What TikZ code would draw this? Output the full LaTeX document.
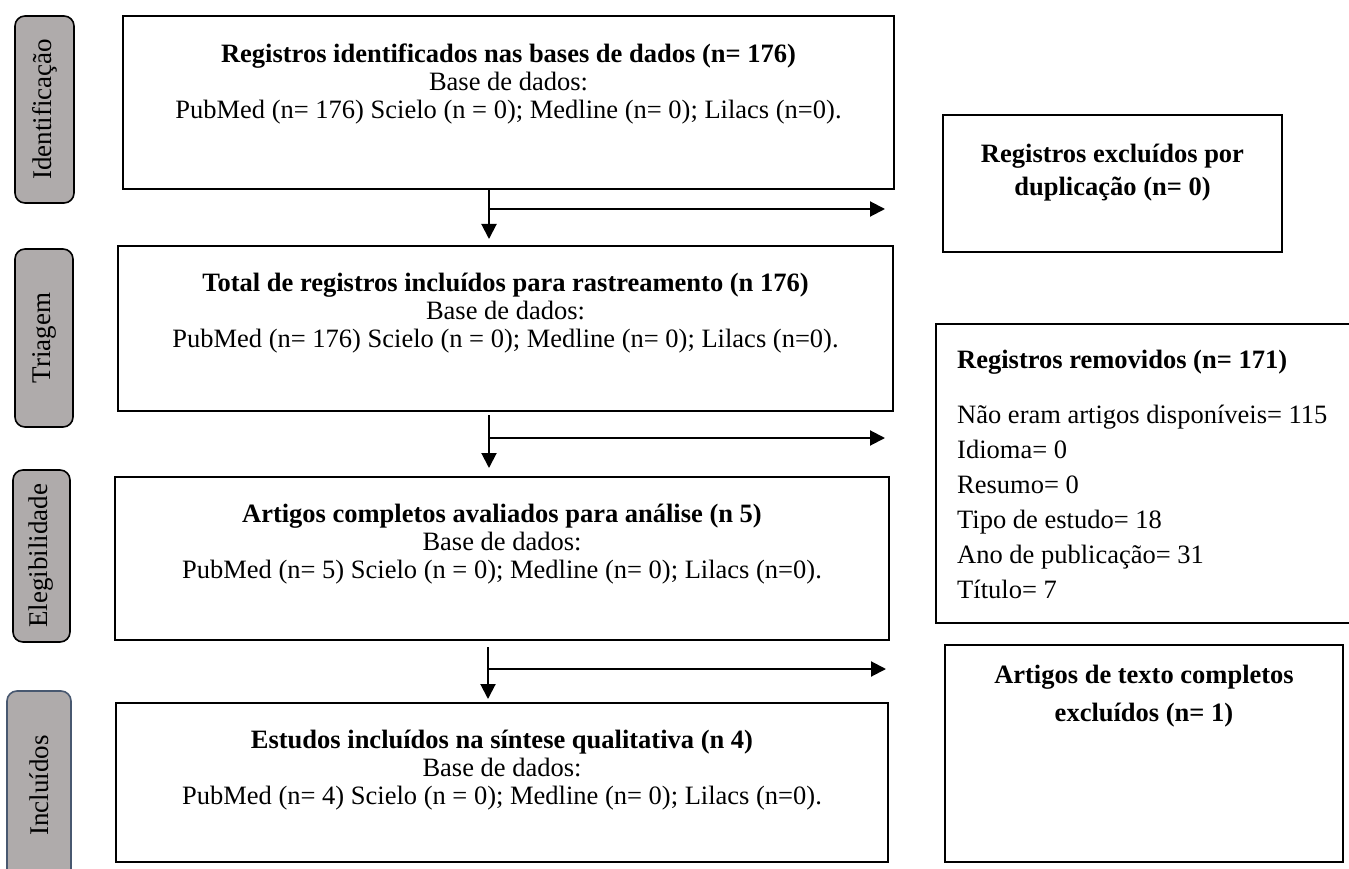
\documentclass[tikz,border=0pt]{standalone}
\usepackage{fontspec}
\setmainfont{Liberation Serif}
\usetikzlibrary{arrows.meta}
\definecolor{bargray}{RGB}{175,171,171}
\definecolor{slate}{RGB}{72,88,112}
\newcommand\mainfs{\fontsize{26.5}{28}\selectfont}
\begin{document}
\begin{tikzpicture}[x=1pt,y=-1pt,
  box/.style={draw, line width=1.6pt, inner sep=0pt},
  txt/.style={align=center, inner sep=0pt, font=\mainfs, anchor=north},
  bar/.style={draw, line width=1.6pt, fill=bargray, rounded corners=10pt, rotate=90, font=\fontsize{27}{30}\selectfont, inner sep=0pt},
  arr/.style={line width=2pt, -{Triangle[length=15pt,width=15pt]}}]
\useasboundingbox (0,0) rectangle (1349,869);
\clip (0,0) rectangle (1349,869);
% phase bars
\node[bar, minimum width=187pt, minimum height=59pt] (b1) at (44.5,109.5) {Identificação};
\node[bar, minimum width=178pt, minimum height=58pt] (b2) at (44,338) {Triagem};
\node[bar, minimum width=172pt, minimum height=57pt] (b3) at (41.5,556) {Elegibilidade};
\node[bar, draw=slate, minimum width=189pt, minimum height=64pt] (b4) at (39,785.5) {Incluídos};
% main boxes
\node[box, minimum width=771pt, minimum height=173pt] (m1) at (508.5,102.5) {};
\node[box, minimum width=775pt, minimum height=165pt] (m2) at (505.5,328.5) {};
\node[box, minimum width=774pt, minimum height=163pt] (m3) at (502,558.5) {};
\node[box, minimum width=772pt, minimum height=159pt] (m4) at (502,782.5) {};
\node[txt] (t1) at (508.5,44) {\textbf{Registros identificados nas bases de dados (n= 176)}\\Base de dados:\\PubMed (n= 176) Scielo (n = 0); Medline (n= 0); Lilacs (n=0).};
\node[txt] (t2) at (505.5,273) {\textbf{Total de registros incluídos para rastreamento (n 176)}\\Base de dados:\\PubMed (n= 176) Scielo (n = 0); Medline (n= 0); Lilacs (n=0).};
\node[txt] (t3) at (502,504) {\textbf{Artigos completos avaliados para análise (n 5)}\\Base de dados:\\PubMed (n= 5) Scielo (n = 0); Medline (n= 0); Lilacs (n=0).};
\node[txt] (t4) at (502,730) {\textbf{Estudos incluídos na síntese qualitativa (n 4)}\\Base de dados:\\PubMed (n= 4) Scielo (n = 0); Medline (n= 0); Lilacs (n=0).};
% side boxes
\node[box, minimum width=339pt, minimum height=137pt] (s1) at (1112.5,183.5) {};
\node[txt, font=\fontsize{26.5}{33}\selectfont] (u1) at (1112.5,144) {\textbf{Registros excluídos por}\\\textbf{duplicação (n= 0)}};
\node[box, minimum width=420pt, minimum height=299pt] (s2) at (1146,473.5) {};
\node[txt, align=left, anchor=north west, font=\fontsize{26.5}{35}\selectfont] (u2) at (957,349.5) {\textbf{Registros removidos (n= 171)}\\[20pt]Não eram artigos disponíveis= 115\\Idioma= 0\\Resumo= 0\\Tipo de estudo= 18\\Ano de publicação= 31\\Título= 7};
\node[box, minimum width=398pt, minimum height=217pt] (s3) at (1144,753.5) {};
\node[txt, font=\fontsize{26.5}{38}\selectfont] (u3) at (1144,665) {\textbf{Artigos de texto completos}\\\textbf{excluídos (n= 1)}};
% connectors
\coordinate (v1e) at (489,239); \coordinate (h1s) at (489,209); \coordinate (h1e) at (885,209);
\coordinate (v2s) at (489,415); \coordinate (v2e) at (489,468); \coordinate (h2s) at (489,438); \coordinate (h2e) at (885,438);
\coordinate (v3s) at (488,647); \coordinate (v3e) at (488,699); \coordinate (h3s) at (488,669); \coordinate (h3e) at (886,669);
\draw[arr] (m1.south -| v1e) -- (v1e);
\draw[arr] (h1s) -- (h1e);
\draw[arr] (v2s) -- (v2e);
\draw[arr] (h2s) -- (h2e);
\draw[arr] (v3s) -- (v3e);
\draw[arr] (h3s) -- (h3e);
\end{tikzpicture}
\end{document}
